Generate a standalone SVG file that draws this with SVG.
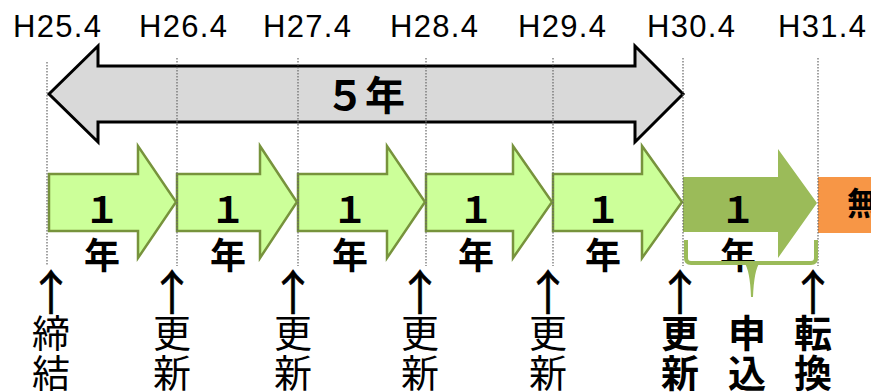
<svg xmlns="http://www.w3.org/2000/svg" width="871" height="392" viewBox="0 0 871 392">
<style>
.yr{font-family:"Liberation Sans",Arial,sans-serif;font-size:31px;fill:#000;text-anchor:middle}
.grid{stroke:#666;stroke-width:1.2;stroke-dasharray:1.5 1.5;fill:none}
.big{fill:#d9d9d9;stroke:#000;stroke-width:3;stroke-linejoin:miter}
.lg{fill:#ccff99;stroke:#77933c;stroke-width:2.5;stroke-linejoin:miter}
.dg{fill:#9bbb59}
.jb{font-family:"Noto Sans CJK JP","Noto Sans CJK SC",sans-serif;font-weight:bold;fill:#000;text-anchor:middle}
.v{font-family:"Noto Sans CJK JP","Noto Sans CJK SC",sans-serif;font-size:38px;fill:#000;text-anchor:middle}
.vb{font-weight:bold}
.ar{font-size:48px;stroke:#000;stroke-width:0.5}
</style>
<rect width="871" height="392" fill="#fff"/>
<g id="years">
<text class="yr" x="57" y="37" textLength="88">H25.4</text>
<text class="yr" x="183" y="37" textLength="88">H26.4</text>
<text class="yr" x="307" y="37" textLength="88">H27.4</text>
<text class="yr" x="434" y="37" textLength="88">H28.4</text>
<text class="yr" x="562" y="37" textLength="88">H29.4</text>
<text class="yr" x="691" y="37" textLength="88">H30.4</text>
<text class="yr" x="822" y="37" textLength="88">H31.4</text>
</g>
<g id="five-years">
<path class="big" d="M49,94 L98,46 L98,66 L635,66 L635,46 L683,94 L635,142 L635,122 L98,122 L98,142 Z"/>
<text class="jb" x="365" y="110" font-size="40">５年</text>
</g>
<g id="year-arrows">
<path class="lg" d="M49,174 L138,174 L138,146 L176,202 L138,258 L138,231 L49,231 Z"/>
<path class="lg" d="M177,174 L260,174 L260,146 L297,202 L260,258 L260,231 L177,231 Z"/>
<path class="lg" d="M298,174 L387,174 L387,146 L425,202 L387,258 L387,231 L298,231 Z"/>
<path class="lg" d="M426,174 L513,174 L513,146 L552,202 L513,258 L513,231 L426,231 Z"/>
<path class="lg" d="M553,174 L642,174 L642,146 L682,202 L642,258 L642,231 L553,231 Z"/>
<path class="dg" d="M683,177 L778,177 L778,149 L817,203 L778,258 L778,232 L683,232 Z"/>
<rect x="818" y="177" width="53" height="56" fill="#f79646"/>
<text class="jb" x="847" y="215" font-size="32" style="text-anchor:start">無</text>
<g font-size="36">
<text class="jb" x="102" y="223">１</text><text class="jb" x="102" y="269">年</text>
<text class="jb" x="228" y="223">１</text><text class="jb" x="228" y="269">年</text>
<text class="jb" x="350" y="223">１</text><text class="jb" x="350" y="269">年</text>
<text class="jb" x="476" y="223">１</text><text class="jb" x="476" y="269">年</text>
<text class="jb" x="603" y="223">１</text><text class="jb" x="603" y="269">年</text>
<text class="jb" x="738" y="223">１</text><text class="jb" x="738" y="269">年</text>
</g>
</g>
<g id="connectors">
<line class="grid" x1="47" y1="62" x2="47" y2="266"/>
<line class="grid" x1="177" y1="58" x2="177" y2="266"/>
<line class="grid" x1="298" y1="58" x2="298" y2="266"/>
<line class="grid" x1="426" y1="58" x2="426" y2="266"/>
<line class="grid" x1="553" y1="58" x2="553" y2="266"/>
<line class="grid" x1="683" y1="58" x2="683" y2="266"/>
<line class="grid" x1="818" y1="58" x2="818" y2="266"/>
<path d="M686,240 L686,258 Q686,263 691,263 L811,263 Q816,263 816,258 L816,240" fill="none" stroke="#9bbb59" stroke-width="4"/>
<path d="M744,262 L760,262 Q754,270 753,297 L751,297 Q750,270 744,262 Z" fill="#9bbb59"/>
</g>
<g id="labels">
<text class="v" x="51"><tspan class="ar" x="51" y="310">↑</tspan><tspan x="51" y="347">締</tspan><tspan x="51" y="387">結</tspan></text>
<text class="v" x="172"><tspan class="ar" x="172" y="310">↑</tspan><tspan x="172" y="347">更</tspan><tspan x="172" y="387">新</tspan></text>
<text class="v" x="293"><tspan class="ar" x="293" y="310">↑</tspan><tspan x="293" y="347">更</tspan><tspan x="293" y="387">新</tspan></text>
<text class="v" x="420"><tspan class="ar" x="420" y="310">↑</tspan><tspan x="420" y="347">更</tspan><tspan x="420" y="387">新</tspan></text>
<text class="v" x="548"><tspan class="ar" x="548" y="310">↑</tspan><tspan x="548" y="347">更</tspan><tspan x="548" y="387">新</tspan></text>
<text class="v" x="680"><tspan class="ar" x="680" y="310">↑</tspan><tspan class="vb" x="680" y="347">更</tspan><tspan class="vb" x="680" y="387">新</tspan></text>
<text class="v vb" x="747"><tspan x="747" y="347">申</tspan><tspan x="747" y="387">込</tspan></text>
<text class="v" x="813"><tspan class="ar" x="813" y="310">↑</tspan><tspan class="vb" x="813" y="347">転</tspan><tspan class="vb" x="813" y="387">換</tspan></text>
</g>
</svg>
